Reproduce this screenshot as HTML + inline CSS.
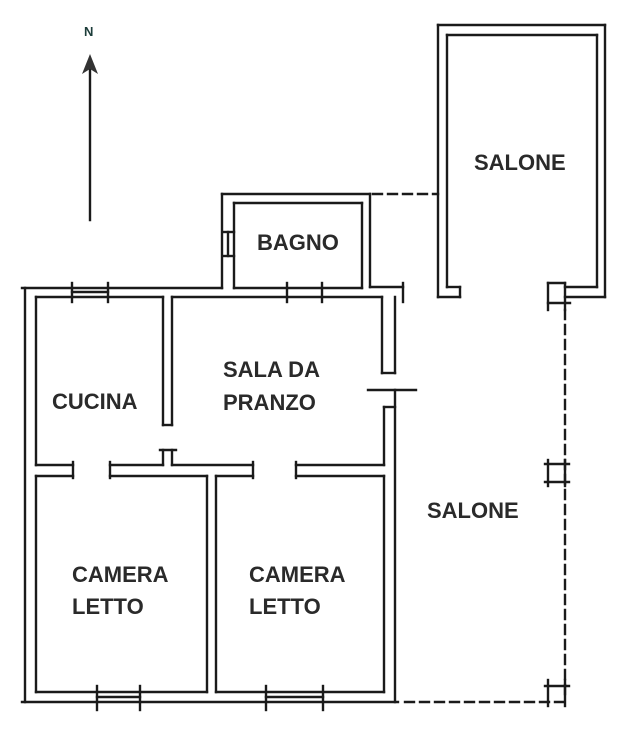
<!DOCTYPE html>
<html><head><style>
body{margin:0;background:#fff;width:620px;height:731px;overflow:hidden}
svg{display:block}
text{font-family:"Liberation Sans",sans-serif;font-weight:bold;fill:#2a2a2a}
</style></head><body>
<svg width="620" height="731" viewBox="0 0 620 731" fill="none" stroke="#1a1a1a" stroke-width="2.4" stroke-linecap="square">
<text x="84" y="36" font-size="13" stroke="none" style="fill:#1d3d3a">N</text>
<line x1="90" y1="62" x2="90" y2="220"/>
<polygon points="90,54 82,74 90,69 98,74" fill="#333" stroke="none"/>

<line x1="25" y1="288" x2="25" y2="702"/>
<line x1="36" y1="297" x2="36" y2="465"/>
<line x1="36" y1="476" x2="36" y2="692"/>
<line x1="22" y1="288" x2="222" y2="288"/>
<line x1="36" y1="297" x2="163" y2="297"/>
<line x1="172" y1="297" x2="382" y2="297"/>
<line x1="234" y1="288" x2="362" y2="288"/>
<line x1="72" y1="283" x2="72" y2="302"/><line x1="108" y1="283" x2="108" y2="302"/>
<line x1="72" y1="292" x2="108" y2="292"/>
<line x1="287" y1="283" x2="287" y2="302"/><line x1="322" y1="283" x2="322" y2="302"/>
<line x1="222" y1="194" x2="222" y2="288"/>
<line x1="222" y1="194" x2="370" y2="194"/>
<line x1="370" y1="194" x2="370" y2="287"/>
<line x1="234" y1="203" x2="234" y2="288"/>
<line x1="234" y1="203" x2="362" y2="203"/>
<line x1="362" y1="203" x2="362" y2="288"/>
<line x1="370" y1="287" x2="403" y2="287"/>
<line x1="403" y1="283" x2="403" y2="302"/>
<line x1="224" y1="232" x2="234" y2="232"/><line x1="224" y1="256" x2="234" y2="256"/>
<line x1="228" y1="232" x2="228" y2="256"/>
<line x1="163" y1="297" x2="163" y2="425"/>
<line x1="172" y1="297" x2="172" y2="425"/>
<line x1="163" y1="425" x2="172" y2="425"/>
<line x1="382" y1="297" x2="382" y2="373"/>
<line x1="395" y1="297" x2="395" y2="373"/>
<line x1="382" y1="373" x2="395" y2="373"/>
<line x1="368" y1="390" x2="416" y2="390"/>
<line x1="395" y1="390" x2="395" y2="702"/>
<line x1="384" y1="407" x2="395" y2="407"/>
<line x1="384" y1="407" x2="384" y2="465"/>
<line x1="36" y1="465" x2="73" y2="465"/>
<line x1="36" y1="476" x2="73" y2="476"/>
<line x1="73" y1="462" x2="73" y2="478"/>
<line x1="110" y1="462" x2="110" y2="478"/>
<line x1="110" y1="465" x2="163" y2="465"/>
<line x1="163" y1="450" x2="163" y2="465"/>
<line x1="172" y1="450" x2="172" y2="465"/>
<line x1="160" y1="450" x2="176" y2="450"/>
<line x1="172" y1="465" x2="253" y2="465"/>
<line x1="110" y1="476" x2="207" y2="476"/>
<line x1="216" y1="476" x2="253" y2="476"/>
<line x1="253" y1="462" x2="253" y2="478"/>
<line x1="296" y1="462" x2="296" y2="478"/>
<line x1="296" y1="465" x2="384" y2="465"/>
<line x1="296" y1="476" x2="384" y2="476"/>
<line x1="384" y1="476" x2="384" y2="692"/>
<line x1="207" y1="476" x2="207" y2="692"/>
<line x1="216" y1="476" x2="216" y2="692"/>
<line x1="36" y1="692" x2="207" y2="692"/>
<line x1="216" y1="692" x2="384" y2="692"/>
<line x1="22" y1="702" x2="398" y2="702"/>
<line x1="97" y1="686" x2="97" y2="710"/><line x1="140" y1="686" x2="140" y2="710"/>
<line x1="97" y1="697" x2="140" y2="697"/>
<line x1="266" y1="686" x2="266" y2="710"/><line x1="323" y1="686" x2="323" y2="710"/>
<line x1="266" y1="697" x2="323" y2="697"/>
<line x1="438" y1="25" x2="605" y2="25"/>
<line x1="438" y1="25" x2="438" y2="297"/>
<line x1="605" y1="25" x2="605" y2="297"/>
<line x1="447" y1="35" x2="597" y2="35"/>
<line x1="447" y1="35" x2="447" y2="287"/>
<line x1="597" y1="35" x2="597" y2="287"/>
<line x1="447" y1="287" x2="460" y2="287"/>
<line x1="460" y1="287" x2="460" y2="297"/>
<line x1="438" y1="297" x2="460" y2="297"/>
<line x1="565" y1="287" x2="597" y2="287"/>
<line x1="548" y1="283" x2="565" y2="283"/>
<line x1="565" y1="297" x2="605" y2="297"/>
<line x1="548" y1="283" x2="548" y2="310"/>
<line x1="565" y1="283" x2="565" y2="310"/>
<line x1="548" y1="303" x2="570" y2="303"/>
<g stroke-dasharray="9,6">
<line x1="373" y1="194" x2="438" y2="194"/>
<line x1="565" y1="310" x2="565" y2="700"/>
<line x1="405" y1="702" x2="565" y2="702"/>
</g>
<line x1="548" y1="460" x2="548" y2="486"/><line x1="565" y1="460" x2="565" y2="486"/>
<line x1="545" y1="464" x2="569" y2="464"/><line x1="545" y1="482" x2="569" y2="482"/>
<line x1="548" y1="680" x2="548" y2="706"/><line x1="565" y1="680" x2="565" y2="706"/>
<line x1="545" y1="686" x2="569" y2="686"/>
<g stroke="none" font-size="22">
<text x="257" y="250">BAGNO</text>
<text x="52" y="409">CUCINA</text>
<text x="223" y="377">SALA DA</text>
<text x="223" y="410">PRANZO</text>
<text x="72" y="582">CAMERA</text>
<text x="72" y="614">LETTO</text>
<text x="249" y="582">CAMERA</text>
<text x="249" y="614">LETTO</text>
<text x="474" y="170">SALONE</text>
<text x="427" y="518">SALONE</text>
</g>
</svg>
</body></html>
